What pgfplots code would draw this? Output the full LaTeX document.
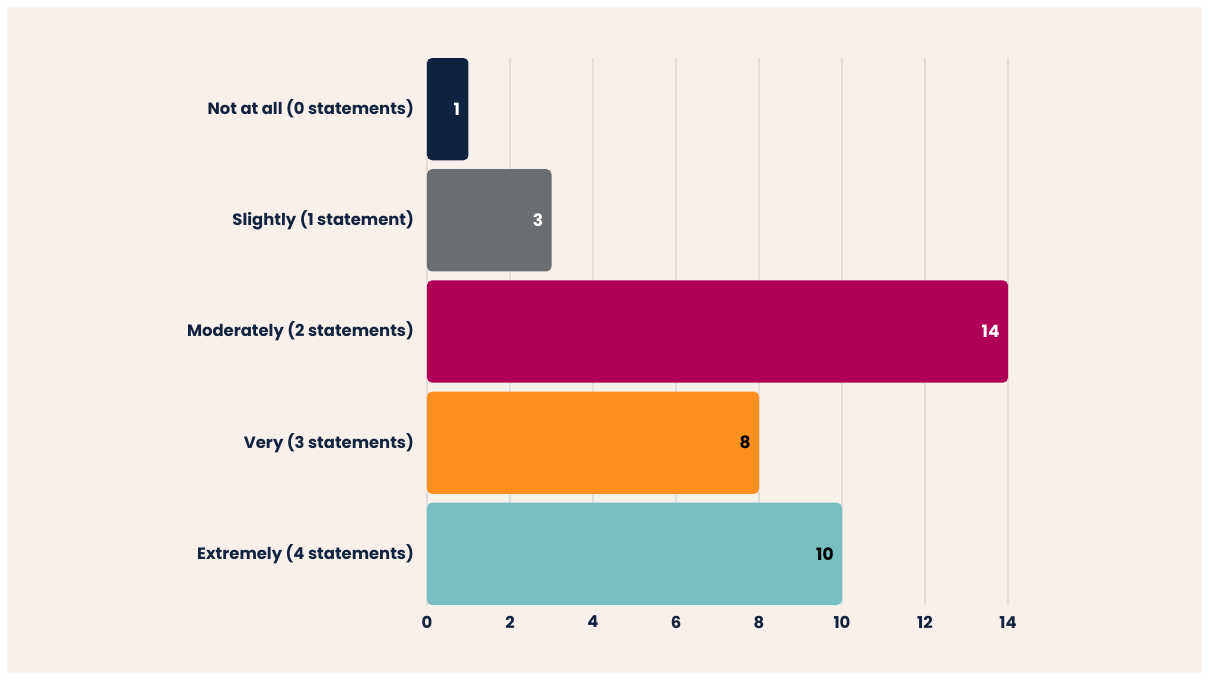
\documentclass[border=0pt]{standalone}
\usepackage{pgfplots}
\usepackage{fontspec}
\setmainfont{Poppins}
\pgfplotsset{compat=1.18}
\definecolor{bgpanel}{HTML}{F8F1EB}
\definecolor{navy}{HTML}{0E2340}
\definecolor{txt}{HTML}{14233F}
\definecolor{greybar}{HTML}{6B6E70}
\definecolor{magbar}{HTML}{B00055}
\definecolor{orangebar}{HTML}{FF9020}
\definecolor{tealbar}{HTML}{76BEC0}
\definecolor{gridc}{HTML}{E2DFDA}

\begin{document}
\begin{tikzpicture}
% white frame and beige panel
\fill[white] (-213.5pt,-37.5pt) rectangle (391pt,302.5pt);
\fill[bgpanel] (-210pt,-34pt) rectangle (387.5pt,299pt);
\begin{axis}[
    at={(0pt,0pt)}, anchor=south west,
    scale only axis,
    width=290.5pt, height=273.5pt,
    xmin=0, xmax=14,
    ymin=-0.46, ymax=4.46,
    y dir=reverse,
    xtick={0,2,...,14},
    ytick={0,1,2,3,4},
    yticklabels={Not at all (0 statements), Slightly (1 statement), Moderately (2 statements), Very (3 statements), Extremely (4 statements)},
    xmajorgrids,
    grid style={gridc, line width=0.7pt},
    axis line style={draw=none},
    tick style={draw=none},
    /pgf/number format/assume math mode=true,
    ticklabel style={font=\bfseries\fontsize{8.2}{10}\selectfont, text=txt},
    yticklabel style={xshift=-3pt},
    xticklabel style={yshift=-2pt},
    every axis plot/.append style={xbar, bar shift=0pt, bar width=0.92, draw=none, rounded corners=2.5pt},
    point meta=x,
    nodes near coords,
    nodes near coords align={anchor=east},
    every node near coord/.append style={font=\bfseries\fontsize{8.5}{10}\selectfont, anchor=east, inner sep=0pt, xshift=-4pt, rounded corners=0pt},
]
\addplot[fill=navy, every node near coord/.append style={text=white}] coordinates {(1,0)};
\addplot[fill=greybar, every node near coord/.append style={text=white}] coordinates {(3,1)};
\addplot[fill=magbar, every node near coord/.append style={text=white}] coordinates {(14,2)};
\addplot[fill=orangebar, every node near coord/.append style={text=black}] coordinates {(8,3)};
\addplot[fill=tealbar, every node near coord/.append style={text=black}] coordinates {(10,4)};
\end{axis}
\end{tikzpicture}
\end{document}
